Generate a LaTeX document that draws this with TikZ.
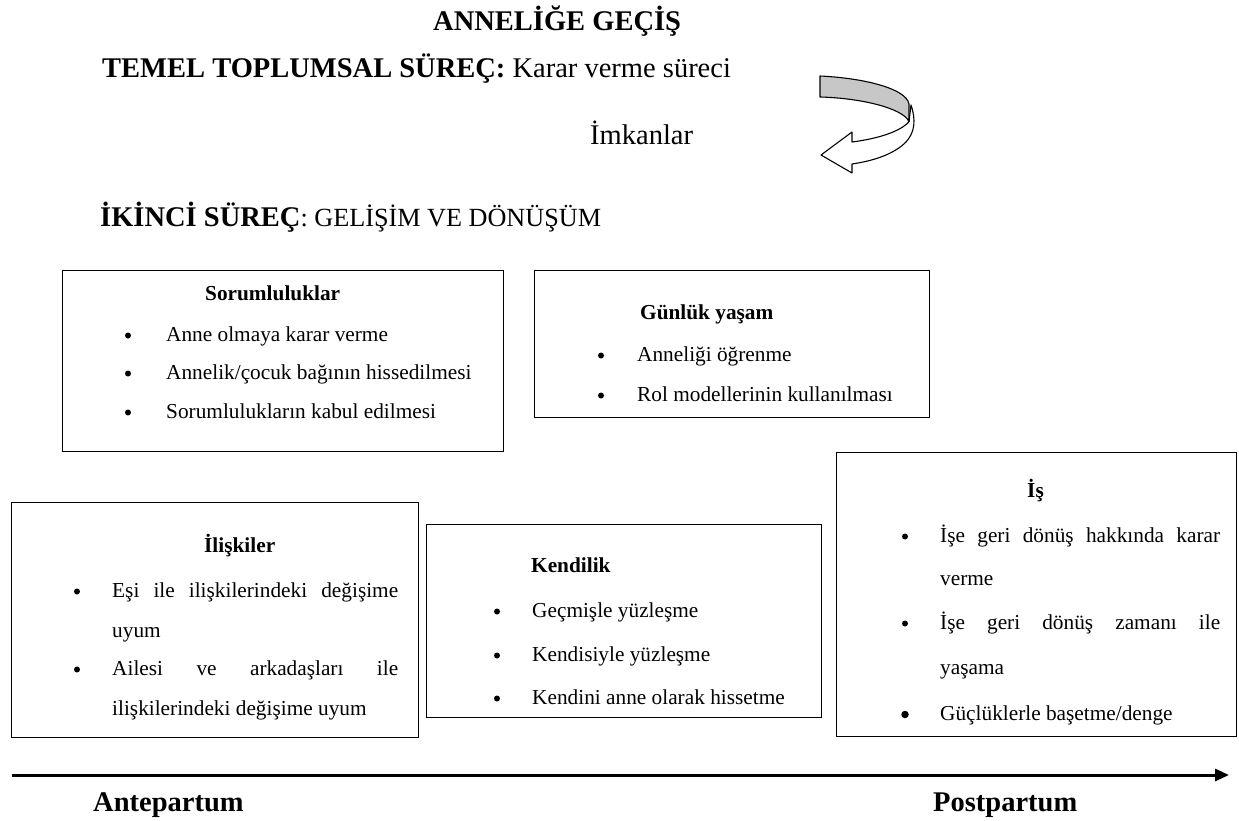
\documentclass[tikz,border=0pt]{standalone}
\usepackage{fontspec}
\setmainfont{Liberation Serif}
\usetikzlibrary{arrows.meta}
\newcommand{\bodyf}{\fontsize{21.3}{25}\selectfont}
\newcommand{\headf}{\fontsize{28.5}{34}\selectfont}
\newcommand{\subf}{\fontsize{26.2}{32}\selectfont}
\begin{document}
\begin{tikzpicture}[x=1pt,y=-1pt,
  box/.style={draw, line width=1.3pt, inner sep=0pt, anchor=north west},
  txt/.style={anchor=base west, inner sep=0pt, font=\bodyf},
  ttl/.style={anchor=base west, inner sep=0pt, font=\bodyf\bfseries},
  hdr/.style={anchor=base west, inner sep=0pt, font=\headf},
  bul/.style={circle, fill=black, inner sep=0pt, minimum size=6pt},
  axis/.style={line width=3pt, -{Triangle[length=14pt,width=12pt]}},
  ribbon/.style={draw=black, line width=1.1pt, line join=round}]
\useasboundingbox (0,0) rectangle (1239,821);

% headings
\node[hdr, font=\headf\bfseries] (title) at (433,31) {ANNELİĞE GEÇİŞ};
\node[hdr] (temel) at (102,78) {\textbf{TEMEL TOPLUMSAL SÜREÇ:} Karar verme süreci};
\node[hdr] (imk) at (590,145) {İmkanlar};
\node[hdr] (ikinci) at (100,226) {\textbf{İKİNCİ SÜREÇ}{\subf: GELİŞİM VE DÖNÜŞÜM}};

% ribbon arrow
\filldraw[ribbon, fill=white] (911,105) .. controls (916,120) and (915,132) .. (906,142)
  .. controls (893,155) and (872,161) .. (852,164) -- (852,173) -- (821,155)
  -- (852,132) -- (852,142) .. controls (876,139) and (900,132) .. (909,121.7) -- cycle;
\filldraw[ribbon, fill=black!22] (820,76) .. controls (862,78) and (906,88) .. (909,104)
  -- (909,121.7) .. controls (903,108) and (860,98) .. (820,97) -- cycle;

% Sorumluluklar
\node[box, minimum width=441pt, minimum height=181pt] (sorBox) at (62,270) {};
\node[ttl] (sorT) at (205,300) {Sorumluluklar};
\node[bul] (sorB1) at (128,335.5) {};
\node[txt] (sor1) at (166,341) {Anne olmaya karar verme};
\node[bul] (sorB2) at (128,373.5) {};
\node[txt] (sor2) at (166,379) {Annelik/çocuk bağının hissedilmesi};
\node[bul] (sorB3) at (128,412.5) {};
\node[txt] (sor3) at (166,418) {Sorumlulukların kabul edilmesi};

% Gunluk yasam
\node[box, minimum width=395pt, minimum height=147pt] (gunBox) at (534,270) {};
\node[ttl] (gunT) at (640,319) {Günlük yaşam};
\node[bul] (gunB1) at (601,355.5) {};
\node[txt] (gun1) at (637,361) {Anneliği öğrenme};
\node[bul] (gunB2) at (601,395.5) {};
\node[txt] (gun2) at (637,401) {Rol modellerinin kullanılması};

% Iliskiler
\node[box, minimum width=407pt, minimum height=235pt] (ilBox) at (11,502) {};
\node[ttl] (ilT) at (204,552) {İlişkiler};
\node[bul] (ilB1) at (77,591.5) {};
\node[txt] (il1) at (112,597) {\makebox[286pt][s]{Eşi ile ilişkilerindeki değişime}};
\node[txt] (il2) at (112,637) {uyum};
\node[bul] (ilB2) at (77,669.5) {};
\node[txt] (il3) at (112,675) {\makebox[286pt][s]{Ailesi ve arkadaşları ile}};
\node[txt] (il4) at (112,715) {ilişkilerindeki değişime uyum};

% Kendilik
\node[box, minimum width=395pt, minimum height=193pt] (kenBox) at (426,524) {};
\node[ttl] (kenT) at (531,572) {Kendilik};
\node[bul] (kenB1) at (497,611.5) {};
\node[txt] (ken1) at (532,617) {Geçmişle yüzleşme};
\node[bul] (kenB2) at (497,655.5) {};
\node[txt] (ken2) at (532,661) {Kendisiyle yüzleşme};
\node[bul] (kenB3) at (497,698.5) {};
\node[txt] (ken3) at (532,704) {Kendini anne olarak hissetme};

% Is
\node[box, minimum width=400pt, minimum height=284pt] (isBox) at (836,452) {};
\node[ttl] (isT) at (1027,497) {İş};
\node[bul] (isB1) at (905,536.5) {};
\node[txt] (is1) at (940,542) {\makebox[280pt][s]{İşe geri dönüş hakkında karar}};
\node[txt] (is2) at (940,585) {verme};
\node[bul] (isB2) at (905,623.5) {};
\node[txt] (is3) at (940,629) {\makebox[280pt][s]{İşe geri dönüş zamanı ile}};
\node[txt] (is4) at (940,674) {yaşama};
\node[bul, minimum size=7.5pt] (isB3) at (905,714.5) {};
\node[txt] (is5) at (940,720) {Güçlüklerle başetme/denge};

% time axis
\coordinate (axL) at (12,775);
\coordinate (axR) at (1229,775);
\draw[axis] (axL) -- (axR);
\node[hdr, font=\headf\bfseries] (ante) at (93,811) {Antepartum};
\node[hdr, font=\headf\bfseries] (post) at (933,811) {Postpartum};
\end{tikzpicture}
\end{document}
